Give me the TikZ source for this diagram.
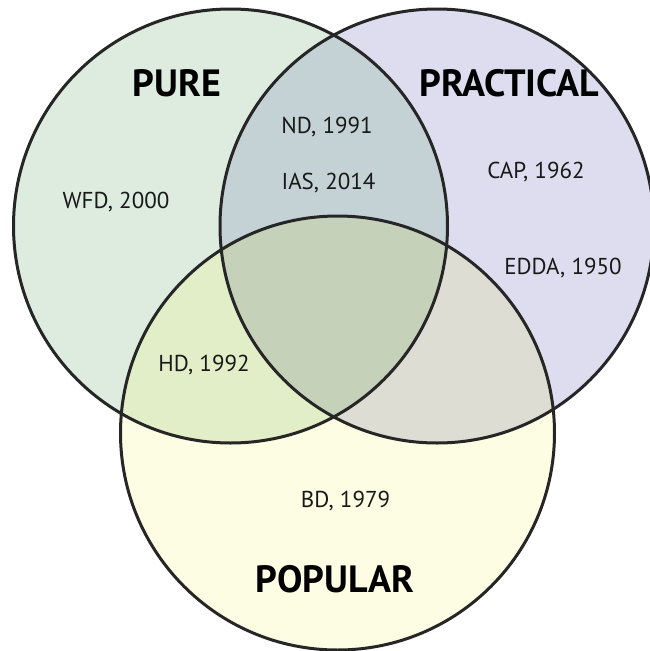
\documentclass[tikz,border=0pt]{standalone}
\usepackage{fontspec}
\setmainfont{PT Sans}
\begin{document}
\begin{tikzpicture}[x=1pt,y=-1pt]
\useasboundingbox (0,0) rectangle (649,651);
\tikzset{
  ring/.style={draw=black!85, line width=3pt},
  lbl/.style={font=\fontsize{23}{27}\selectfont, text=black!90, inner sep=0pt},
  big/.style={font=\fontsize{38}{43}\selectfont\bfseries, text=black, inner sep=0pt}
}
\definecolor{cA}{RGB}{221,236,223}
\definecolor{cB}{RGB}{222,221,239}
\definecolor{cC}{RGB}{253,253,228}
\definecolor{cAB}{RGB}{196,210,213}
\definecolor{cAC}{RGB}{225,238,200}
\definecolor{cBC}{RGB}{222,221,211}
\definecolor{cABC}{RGB}{198,209,186}
\def\rr{217}
\coordinate (pA) at (230.5,226);
\coordinate (pB) at (437,226);
\coordinate (pC) at (337.5,433);
% singles
\fill[cA] (pA) circle (\rr);
\fill[cB] (pB) circle (\rr);
\fill[cC] (pC) circle (\rr);
% pairs
\begin{scope}\clip (pA) circle (\rr); \fill[cAB] (pB) circle (\rr);\end{scope}
\begin{scope}\clip (pA) circle (\rr); \fill[cAC] (pC) circle (\rr);\end{scope}
\begin{scope}\clip (pB) circle (\rr); \fill[cBC] (pC) circle (\rr);\end{scope}
\begin{scope}\clip (pA) circle (\rr); \clip (pB) circle (\rr); \fill[cABC] (pC) circle (\rr);\end{scope}
% outlines
\draw[ring] (pA) circle (\rr);
\draw[ring] (pB) circle (\rr);
\draw[ring] (pC) circle (\rr);
% labels
\node[big] (pure) at (177,83) {PURE};
\node[big] (practical) at (509,83) {PRACTICAL};
\node[big] (popular) at (335,579) {POPULAR};
\node[lbl] (nd) at (327,127.5) {ND, 1991};
\node[lbl] (ias) at (328.5,183) {IAS, 2014};
\node[lbl] (wfd) at (116,202) {WFD, 2000};
\node[lbl] (cap) at (536,172) {CAP, 1962};
\node[lbl] (edda) at (563,268) {EDDA, 1950};
\node[lbl] (hd) at (204,365) {HD, 1992};
\node[lbl] (bd) at (345.5,501) {BD, 1979};
\end{tikzpicture}
\end{document}
